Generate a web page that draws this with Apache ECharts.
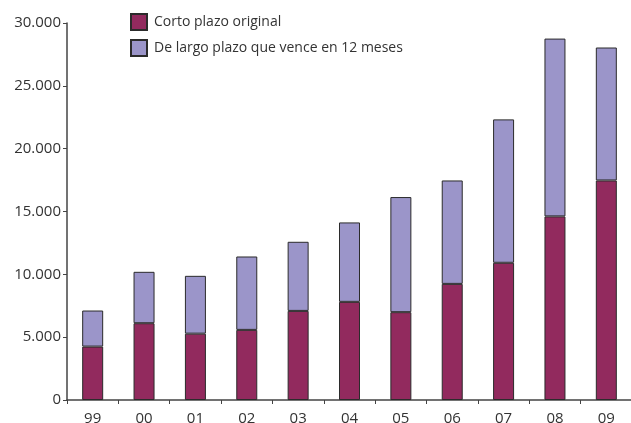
<!DOCTYPE html>
<html>
<head>
<meta charset="utf-8">
<script src="https://cdn.jsdelivr.net/npm/echarts@6/dist/echarts.min.js"></script>
<style>
  html, body { margin: 0; padding: 0; background: #fff; }
  #chart { width: 631px; height: 423px; }
</style>
</head>
<body>
<div id="chart"></div>
<script>
// años (eje x)
const years = ['99', '00', '01', '02', '03', '04', '05', '06', '07', '08', '09']
// corto plazo original
const cortoPlazo = [4250, 6110, 5280, 5580, 7090, 7810, 6990, 9240, 10920, 14610, 17470]
// total con deuda de largo plazo que vence en 12 meses
const totales = [7120, 10200, 9880, 11420, 12590, 14130, 16150, 17470, 22330, 28760, 28050]
const largoPlazo = totales.map((t, i) => t - cortoPlazo[i])

const seriesNames = ['Corto plazo original', 'De largo plazo que vence en 12 meses']

const myChart = echarts.init(document.getElementById('chart'))

const barBase = {
  type: 'bar',
  stack: 'total',
  barWidth: 21,
  animation: false
}

const option = {
  textStyle: { fontFamily: 'Open Sans' },
  legend: {
    orient: 'vertical',
    left: 130,
    top: 13,
    padding: 0,
    itemWidth: 16,
    itemHeight: 16,
    itemGap: 8,
    icon: 'rect',
    textStyle: { fontSize: 14, color: '#333', fontFamily: 'Open Sans', padding: [0, 0, 0, 2] },
    data: seriesNames
  },
  grid: {
    left: 67,
    right: -1,
    top: 23,
    bottom: 23,
    containLabel: false,
    outerBoundsMode: 'none'
  },
  xAxis: {
    type: 'category',
    data: years,
    axisLine: { lineStyle: { color: '#444', width: 1.5 } },
    axisTick: { show: true, length: 4, lineStyle: { color: '#444' } },
    axisLabel: { fontSize: 15, color: '#333', margin: 11 }
  },
  yAxis: {
    type: 'value',
    min: 0,
    max: 30000,
    interval: 5000,
    splitLine: { show: false },
    axisLine: { show: true, lineStyle: { color: '#444', width: 1.5 } },
    axisTick: { show: true, length: 4, lineStyle: { color: '#444' } },
    axisLabel: {
      fontSize: 15,
      color: '#333',
      margin: 6,
      formatter: (v) => v === 0 ? '0' : (v / 1000).toFixed(0) + '.000'
    }
  },
  series: [
    {
      name: seriesNames[0],
      data: cortoPlazo,
      itemStyle: { color: '#922A5E', borderColor: '#2b2b2b', borderWidth: 1 },
      ...barBase
    },
    {
      name: seriesNames[1],
      data: largoPlazo,
      itemStyle: { color: '#9B95C9', borderColor: '#2b2b2b', borderWidth: 1 },
      ...barBase
    }
  ]
}

myChart.setOption(option)
</script>
</body>
</html>
